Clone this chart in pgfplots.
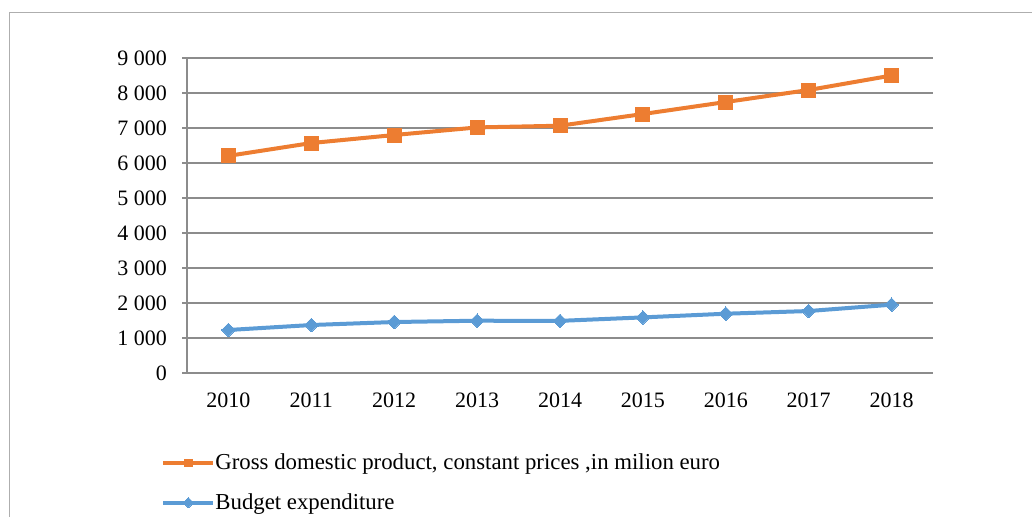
\documentclass[border=0pt]{standalone}
\usepackage{fontspec}
\setmainfont{Liberation Serif}
\usepackage{pgfplots}
\pgfplotsset{compat=1.18}
\definecolor{gdp}{HTML}{ED7D31}
\definecolor{bud}{HTML}{5B9BD5}
\definecolor{gridc}{HTML}{8C8C8C}
\begin{document}
\begin{tikzpicture}
\path[use as bounding box] (0,0) rectangle (516pt,258pt);
\draw[gridc!70, line width=0.6pt] (4.65pt,-5pt) -- (4.65pt,251.65pt) -- (525pt,251.65pt);
\begin{axis}[
  at={(93.5pt,71.5pt)}, anchor=south west,
  scale only axis, width=373pt, height=157.5pt,
  xmin=-0.5, xmax=8.5, ymin=0, ymax=9000,
  axis lines=left, axis line style={-, gridc, line width=0.6pt},
  tick align=outside,
  xtick={0,...,8},
  xticklabels={2010,2011,2012,2013,2014,2015,2016,2017,2018},
  xtick style={draw=none},
  minor xtick={-0.5,0.5,...,8.5},
  minor tick length=2.5pt, major tick length=2.5pt,
  minor tick style={gridc, line width=0.6pt},
  ytick={0,1000,...,9000},
  ytick style={gridc, line width=0.6pt},
  ymajorgrids=true,
  grid style={gridc, line width=0.6pt},
  /pgf/number format/.cd, 1000 sep={\ }, assume math mode=true,
  /pgfplots/.cd,
  scaled y ticks=false,
  tick label style={font=\fontsize{11pt}{13pt}\selectfont, text=black},
  yticklabel style={xshift=-4pt},
  xticklabel style={yshift=-4pt},
  legend style={at={(axis description cs:0,0)}, anchor=north west,
    xshift=-13pt, yshift=-40pt, draw=none, fill=none, inner sep=0pt,
    row sep=10.5pt, font=\fontsize{11.4pt}{13pt}\selectfont,
    nodes={inner sep=0pt}},
  legend cell align=left,
  legend image code/.code={\draw[mark repeat=2,mark phase=2,#1,mark size=1.8pt] plot coordinates {(0pt,0pt) (12.5pt,0pt) (25pt,0pt)};},
]
\addplot[gdp, line width=2pt, mark=square*, mark size=3.5pt, mark options={solid, fill=gdp, draw=gdp, line width=0pt}]
  coordinates {(0,6205) (1,6571) (2,6800) (3,7017) (4,7066) (5,7400) (6,7743) (7,8086) (8,8500)};
\addlegendentry{Gross domestic product, constant prices ,in milion euro}
\addplot[bud, line width=2pt, mark=square*, mark size=2.4pt, mark options={solid, rotate=45, fill=bud, draw=bud, line width=0pt}]
  coordinates {(0,1229) (1,1371) (2,1457) (3,1494) (4,1490) (5,1589) (6,1694) (7,1771) (8,1952)};
\addlegendentry{Budget expenditure}
\end{axis}
\end{tikzpicture}
\end{document}
